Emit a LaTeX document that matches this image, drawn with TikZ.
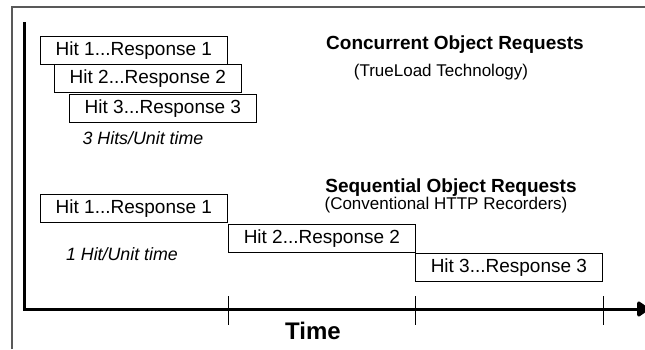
\documentclass[tikz,border=0pt]{standalone}
\usepackage{fontspec}
\setmainfont{Liberation Sans}
\usetikzlibrary{arrows.meta}

\def\boxw{187}
\def\boxh{28}

\begin{document}
\begin{tikzpicture}[x=1pt, y=-1pt,
    hitbox/.style={draw, line width=0.8pt, anchor=north west, inner sep=0pt,
      minimum width=\boxw pt, minimum height=\boxh pt,
      font=\fontsize{19}{22}\selectfont},
    heading/.style={font=\fontsize{19}{22}\selectfont\bfseries},
    subheading/.style={font=\fontsize{17}{20}\selectfont},
    rate/.style={font=\fontsize{17.8}{21}\selectfont\itshape},
    axis/.style={line width=3pt, -{Triangle[round,length=13pt,width=17pt]}}]
      \useasboundingbox (0,0) rectangle (645,349);
      % frame
      \draw[gray!70!black, line width=2pt] (12,349) -- (12,7) -- (645,7);
      % concurrent requests
      \node[hitbox] (c1) at (40,36) {Hit 1...Response 1};
      \node[hitbox] (c2) at (54,64) {Hit 2...Response 2};
      \node[hitbox] (c3) at (69,94) {Hit 3...Response 3};
      \node[rate] (crate) at (143,138) {3 Hits/Unit time};
      \node[heading] (ctitle) at (455,45) {Concurrent Object Requests};
      \node[subheading] (csub) at (441,72) {(TrueLoad Technology)};
      % sequential requests
      \node[hitbox] (s1) at (40,194) {Hit 1...Response 1};
      \node[hitbox] (s2) at (228,224) {Hit 2...Response 2};
      \node[hitbox] (s3) at (415,253) {Hit 3...Response 3};
      \node[rate] (srate) at (122,254) {1 Hit/Unit time};
      \node[heading] (stitle) at (451,188) {Sequential Object Requests};
      \node[subheading] (ssub) at (446,205) {(Conventional HTTP Recorders)};
      % axes
      \coordinate (ytop) at (24,22);
      \coordinate (origin) at (24,309);
      \coordinate (xend) at (649,309);
      \draw[axis] (ytop) -- (origin) -- (xend);
      \foreach \t in {228,415,603}
        \draw[line width=0.8pt] (\t,296) -- (\t,325);
      \node[font=\fontsize{24}{26}\selectfont\bfseries] (time) at (313,331) {Time};
\end{tikzpicture}
\end{document}
